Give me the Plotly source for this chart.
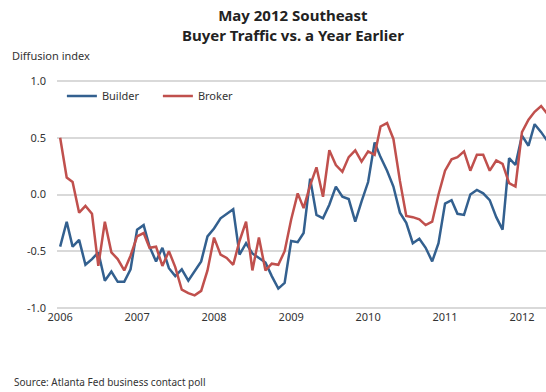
import pandas as pd
import plotly.graph_objects as go

# Monthly survey readings, January 2006 through May 2012
months = pd.date_range("2006-01-01", periods=77, freq="MS")

builder = [
    -0.46, -0.24, -0.46, -0.40, -0.62, -0.57, -0.51, -0.76, -0.68, -0.77, -0.77, -0.66,
    -0.31, -0.27, -0.46, -0.59, -0.47, -0.65, -0.72, -0.66, -0.76, -0.68, -0.59, -0.37,
    -0.30, -0.21, -0.17, -0.13, -0.53, -0.43, -0.52, -0.56, -0.60, -0.72, -0.83, -0.78,
    -0.41, -0.42, -0.34, 0.14, -0.18, -0.21, -0.09, 0.07, -0.02, -0.04, -0.24, -0.06,
    0.11, 0.46, 0.33, 0.21, 0.07, -0.16, -0.25, -0.43, -0.39, -0.47, -0.59, -0.43,
    -0.08, -0.05, -0.17, -0.18, 0.00, 0.04, 0.01, -0.05, -0.20, -0.31, 0.32, 0.26,
    0.52, 0.43, 0.62, 0.55, 0.47,
]

broker = [
    0.50, 0.15, 0.11, -0.16, -0.10, -0.17, -0.63, -0.24, -0.51, -0.57, -0.67, -0.54,
    -0.37, -0.34, -0.47, -0.46, -0.63, -0.50, -0.64, -0.84, -0.87, -0.89, -0.85, -0.67,
    -0.38, -0.53, -0.56, -0.62, -0.41, -0.24, -0.67, -0.38, -0.67, -0.61, -0.62, -0.50,
    -0.22, 0.01, -0.12, 0.08, 0.24, -0.02, 0.39, 0.26, 0.20, 0.33, 0.39, 0.29,
    0.38, 0.35, 0.60, 0.63, 0.49, 0.12, -0.19, -0.20, -0.22, -0.27, -0.24, 0.00,
    0.21, 0.31, 0.33, 0.38, 0.21, 0.35, 0.35, 0.21, 0.30, 0.27, 0.10, 0.07,
    0.55, 0.66, 0.73, 0.78, 0.71,
]

y_ticks = [-1.0, -0.5, 0.0, 0.5, 1.0]
y_tick_labels = ["-1.0", "-0.5", "0.0", "0.5", "1.0"]
year_ticks = ["2006-01-01", "2007-01-01", "2008-01-01", "2009-01-01",
              "2010-01-01", "2011-01-01", "2012-01-01"]
year_labels = ["2006", "2007", "2008", "2009", "2010", "2011", "2012"]

FONT = "Noto Sans"
TEXT = "#333333"
GRID = "#d9d9d9"

fig = go.Figure()
fig.add_trace(go.Scatter(x=months, y=builder, name="Builder", mode="lines",
                         line=dict(color="#33608f", width=2.5)))
fig.add_trace(go.Scatter(x=months, y=broker, name="Broker", mode="lines",
                         line=dict(color="#c0504d", width=2.5)))

fig.update_layout(
    width=546, height=392,
    margin=dict(l=57, r=0, t=80, b=83),
    paper_bgcolor="white", plot_bgcolor="white",
    font=dict(family=FONT, size=11, color=TEXT),
    showlegend=True,
    legend=dict(orientation="h", x=0.01, y=0.93, xanchor="left", yanchor="middle",
                bgcolor="rgba(0,0,0,0)", font=dict(size=11, color=TEXT),
                itemwidth=30, entrywidth=51, entrywidthmode="pixels"),
    xaxis=dict(type="date", range=["2005-12-17", "2012-04-24"],
               tickvals=year_ticks, ticktext=year_labels,
               showgrid=False, zeroline=False, showline=False, ticks="",
               tickfont=dict(size=11, color=TEXT)),
    yaxis=dict(range=[-1.01, 1.01], tickvals=y_ticks, ticktext=y_tick_labels,
               showgrid=True, gridcolor=GRID, gridwidth=2,
               zeroline=True, zerolinecolor=GRID, zerolinewidth=2,
               showline=False, ticks="", ticklabelstandoff=10,
               tickfont=dict(size=11, color=TEXT)),
    annotations=[
        dict(text="<b>May 2012 Southeast<br>Buyer Traffic vs. a Year Earlier</b>",
             xref="paper", yref="paper", x=0.482, y=1.335,
             xanchor="center", yanchor="top", showarrow=False, align="center",
             font=dict(family=FONT, size=15, color="#222222")),
        dict(text="Diffusion index", xref="paper", yref="paper", x=-0.097, y=1.105,
             xanchor="left", yanchor="middle", showarrow=False,
             font=dict(size=11, color=TEXT)),
        dict(text="Source: Atlanta Fed business contact poll", xref="paper", yref="paper",
             x=-0.092, y=-0.32, xanchor="left", yanchor="middle", showarrow=False,
             font=dict(size=10, color=TEXT)),
    ],
)

fig.write_html("out.html")
